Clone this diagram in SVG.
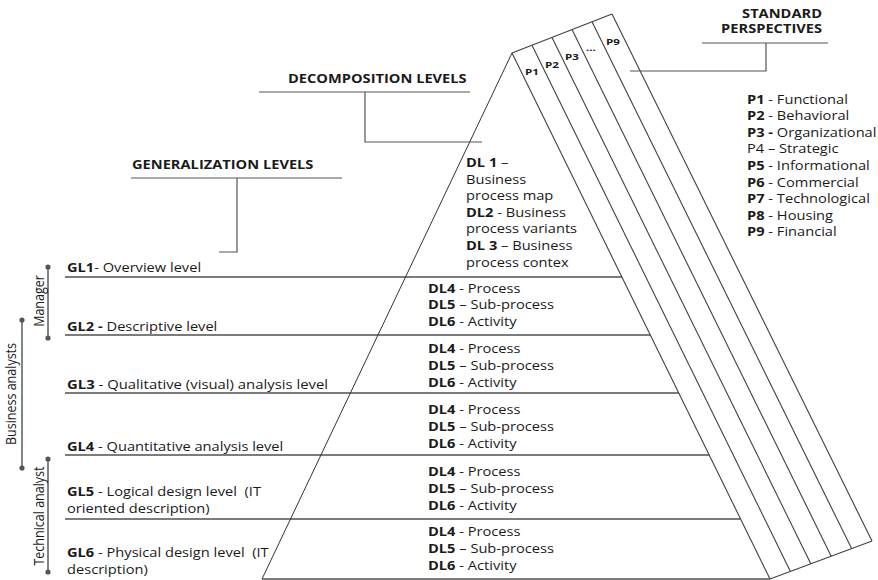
<svg xmlns="http://www.w3.org/2000/svg" width="878" height="580" viewBox="0 0 878 580">
<style>
text{font-family:"Open Sans","Liberation Sans",sans-serif;font-size:12px;fill:#1a1a1a}
.b{font-weight:bold}
.hd{font-weight:bold;font-size:12px}
.pl{font-weight:bold;font-size:9.5px}
.lvl{stroke:#505050;stroke-width:1.4;fill:none}
.edge{stroke:#333;stroke-width:1;fill:none}
.band{stroke:#404040;stroke-width:1.1;fill:none}
.con{stroke:#555;stroke-width:1.2;fill:none}
.bar{stroke:#777;stroke-width:1.8}
.dot{fill:#555}
.rot{font-size:12.5px}
</style>
<rect width="878" height="580" fill="#fff"/>

<g id="pyramid">
  <line class="lvl" x1="65" y1="277" x2="622" y2="277"/>
  <line class="lvl" x1="65" y1="335" x2="650" y2="335"/>
  <line class="lvl" x1="65" y1="393" x2="679" y2="393"/>
  <line class="lvl" x1="65" y1="455" x2="709" y2="455"/>
  <line class="lvl" x1="65" y1="519" x2="740" y2="519"/>
  <line class="lvl" x1="262" y1="579" x2="770" y2="579"/>
  <line class="edge" x1="512" y1="53" x2="262" y2="579"/>
</g>

<g id="perspectives-band">
  <line class="band" x1="512" y1="53" x2="612" y2="14"/>
  <line class="band" x1="770" y1="579" x2="872" y2="541"/>
  <line class="band" x1="512" y1="53" x2="770" y2="579"/>
  <line class="band" x1="532" y1="45.2" x2="790.4" y2="571.4"/>
  <line class="band" x1="552" y1="37.4" x2="810.8" y2="563.8"/>
  <line class="band" x1="572" y1="29.6" x2="831.2" y2="556.2"/>
  <line class="band" x1="592" y1="21.8" x2="851.6" y2="548.6"/>
  <line class="band" x1="612" y1="14" x2="872" y2="541"/>
  <text class="pl" transform="translate(525,75) scale(1.22,1)">P1</text>
  <text class="pl" transform="translate(545,68) scale(1.22,1)">P2</text>
  <text class="pl" transform="translate(565,60) scale(1.22,1)">P3</text>
  <text class="pl" transform="translate(586,51) scale(1.22,1)">...</text>
  <text class="pl" transform="translate(606,45) scale(1.22,1)">P9</text>
</g>

<g id="connectors">
  <path class="con" d="M131,178 H342 M237,178 V252 H219"/>
  <path class="con" d="M259,92 H470 M365,92 V142 H482"/>
  <path class="con" d="M702,43 H828 M766,43 V71 H630"/>
</g>

<g id="header-generalization">
  <text class="hd" transform="translate(132,169) scale(1.22,1)">GENERALIZATION LEVELS</text>
</g>
<g id="header-decomposition">
  <text class="hd" transform="translate(288,83) scale(1.22,1)">DECOMPOSITION LEVELS</text>
</g>
<g id="header-perspectives">
  <text class="hd" text-anchor="end" transform="translate(822,18) scale(1.22,1)">STANDARD</text>
  <text class="hd" text-anchor="end" transform="translate(822,33) scale(1.22,1)">PERSPECTIVES</text>
</g>

<g id="legend">
  <text transform="translate(747,103.5) scale(1.22,1)"><tspan class="b">P1</tspan> - Functional</text>
  <text transform="translate(747,120.1) scale(1.22,1)"><tspan class="b">P2</tspan> - Behavioral</text>
  <text transform="translate(747,136.7) scale(1.22,1)"><tspan class="b">P3 -</tspan> Organizational</text>
  <text transform="translate(747,153.3) scale(1.22,1)">P4 – Strategic</text>
  <text transform="translate(747,169.9) scale(1.22,1)"><tspan class="b">P5</tspan> - Informational</text>
  <text transform="translate(747,186.5) scale(1.22,1)"><tspan class="b">P6</tspan> - Commercial</text>
  <text transform="translate(747,203.1) scale(1.22,1)"><tspan class="b">P7</tspan> - Technological</text>
  <text transform="translate(747,219.7) scale(1.22,1)"><tspan class="b">P8</tspan> - Housing</text>
  <text transform="translate(747,236.3) scale(1.22,1)"><tspan class="b">P9</tspan> - Financial</text>
</g>

<g id="dl1-3">
  <text transform="translate(466,167) scale(1.22,1)">
    <tspan x="0" y="0"><tspan class="b">DL 1</tspan> –</tspan>
    <tspan x="0" y="16.6">Business</tspan>
    <tspan x="0" y="33.2">process map</tspan>
    <tspan x="0" y="49.8"><tspan class="b">DL2</tspan> - Business</tspan>
    <tspan x="0" y="66.4">process variants</tspan>
    <tspan x="0" y="83"><tspan class="b">DL 3</tspan> – Business</tspan>
    <tspan x="0" y="99.6">process contex</tspan>
  </text>
</g>

<g id="dl-gl2">
  <text transform="translate(428,292.5) scale(1.22,1)"><tspan x="0" y="0"><tspan class="b">DL4</tspan> - Process</tspan><tspan x="0" y="16.8"><tspan class="b">DL5</tspan> – Sub-process</tspan><tspan x="0" y="33.6"><tspan class="b">DL6</tspan> - Activity</tspan></text>
</g>
<g id="dl-gl3">
  <text transform="translate(428,353) scale(1.22,1)"><tspan x="0" y="0"><tspan class="b">DL4</tspan> - Process</tspan><tspan x="0" y="17"><tspan class="b">DL5</tspan> – Sub-process</tspan><tspan x="0" y="34"><tspan class="b">DL6</tspan> - Activity</tspan></text>
</g>
<g id="dl-gl4">
  <text transform="translate(428,414) scale(1.22,1)"><tspan x="0" y="0"><tspan class="b">DL4</tspan> - Process</tspan><tspan x="0" y="17"><tspan class="b">DL5</tspan> – Sub-process</tspan><tspan x="0" y="34"><tspan class="b">DL6</tspan> - Activity</tspan></text>
</g>
<g id="dl-gl5">
  <text transform="translate(428,476) scale(1.22,1)"><tspan x="0" y="0"><tspan class="b">DL4</tspan> - Process</tspan><tspan x="0" y="17"><tspan class="b">DL5</tspan> – Sub-process</tspan><tspan x="0" y="34"><tspan class="b">DL6</tspan> - Activity</tspan></text>
</g>
<g id="dl-gl6">
  <text transform="translate(428,536) scale(1.22,1)"><tspan x="0" y="0"><tspan class="b">DL4</tspan> - Process</tspan><tspan x="0" y="17"><tspan class="b">DL5</tspan> – Sub-process</tspan><tspan x="0" y="34"><tspan class="b">DL6</tspan> - Activity</tspan></text>
</g>

<g id="gl1"><text transform="translate(67,272) scale(1.22,1)"><tspan class="b">GL1</tspan>- Overview level</text></g>
<g id="gl2"><text transform="translate(67,331) scale(1.22,1)"><tspan class="b">GL2 -</tspan> Descriptive level</text></g>
<g id="gl3"><text transform="translate(67,389) scale(1.24,1)"><tspan class="b">GL3</tspan> - Qualitative (visual) analysis level</text></g>
<g id="gl4"><text transform="translate(67,450.5) scale(1.22,1)"><tspan class="b">GL4</tspan> - Quantitative analysis level</text></g>
<g id="gl5"><text transform="translate(67,496) scale(1.22,1)"><tspan x="0" y="0"><tspan class="b">GL5</tspan> - Logical design level &#160;(IT</tspan><tspan x="0" y="17.5">oriented description)</tspan></text></g>
<g id="gl6"><text transform="translate(67,557) scale(1.22,1)"><tspan x="0" y="0"><tspan class="b">GL6</tspan> - Physical design level &#160;(IT</tspan><tspan x="0" y="17.5">description)</tspan></text></g>

<g id="manager">
  <line class="bar" x1="48" y1="267" x2="48" y2="338"/>
  <circle class="dot" cx="48" cy="267" r="2.6"/>
  <circle class="dot" cx="48" cy="338" r="2.6"/>
  <text class="rot" text-anchor="middle" transform="translate(44,301) rotate(-90) scale(1,1.22)">Manager</text>
</g>
<g id="business-analysts">
  <line class="bar" x1="22" y1="320" x2="22" y2="468"/>
  <circle class="dot" cx="22" cy="320" r="2.6"/>
  <circle class="dot" cx="22" cy="468" r="2.6"/>
  <text class="rot" text-anchor="middle" transform="translate(16,394) rotate(-90) scale(1,1.22)">Business analysts</text>
</g>
<g id="technical-analyst">
  <line class="bar" x1="48" y1="459" x2="48" y2="572"/>
  <circle class="dot" cx="48" cy="459" r="2.6"/>
  <circle class="dot" cx="48" cy="572" r="2.6"/>
  <text class="rot" text-anchor="middle" transform="translate(44,516) rotate(-90) scale(1,1.22)">Technical analyst</text>
</g>
</svg>
